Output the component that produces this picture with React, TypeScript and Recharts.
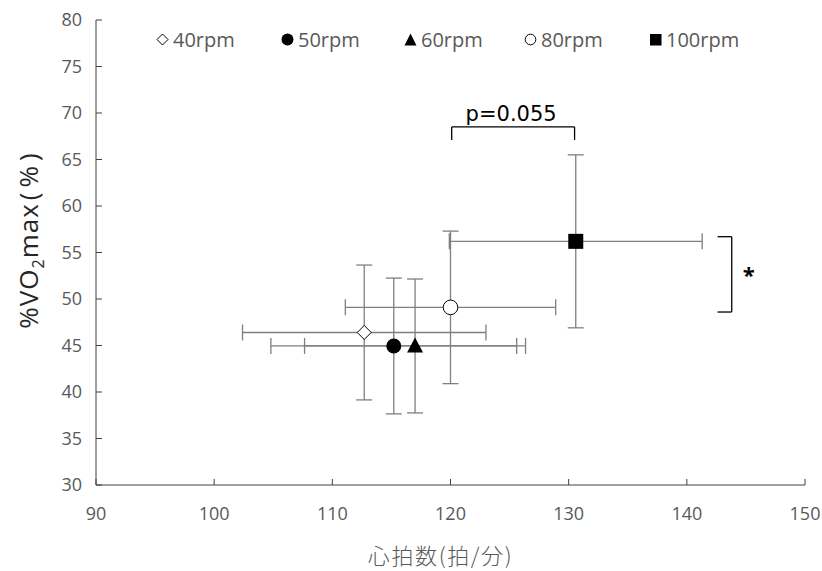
import React from 'react';
import { ScatterChart, Scatter, XAxis, YAxis, ErrorBar, ReferenceLine } from 'recharts';

const seriesNames = ['40rpm', '50rpm', '60rpm', '80rpm', '100rpm'];
const heartRate = [112.7, 115.2, 117.0, 120.0, 130.6];
const heartRateSD = [10.3, 10.4, 9.35, 8.9, 10.7];
const vo2max = [46.4, 44.95, 44.95, 49.1, 56.2];
const vo2maxSD = [7.25, 7.3, 7.2, 8.2, 9.3];
const xTicks = [90, 100, 110, 120, 130, 140, 150];
const yTicks = [30, 35, 40, 45, 50, 55, 60, 65, 70, 75, 80];

const bracketTop = { x1: 120.1, x2: 130.5, y: 68.5, yLeg: 67.1, label: 'p=0.055' };
const bracketRight = { x: 143.8, xStub: 142.6, y1: 56.7, y2: 48.6, label: '*' };

const seriesData = seriesNames.map((name, i) => [
  { x: heartRate[i], y: vo2max[i], xErr: heartRateSD[i], yErr: vo2maxSD[i], name },
]);

const GRAY = '#595959';
const ERR = '#7f7f7f';
const FONT = '"Open Sans", "Noto Sans", sans-serif';

const markerKinds = ['diamond', 'dot', 'triangle', 'circle', 'square'];
const legendLeft = [156, 281, 404, 524, 649];

function Marker({ kind, cx, cy }: { kind: string; cx: number; cy: number }) {
  switch (kind) {
    case 'diamond':
      return <path d={`M${cx},${cy - 7}L${cx + 7},${cy}L${cx},${cy + 7}L${cx - 7},${cy}Z`} fill="#fff" stroke="#000" strokeWidth={1} />;
    case 'dot':
      return <circle cx={cx} cy={cy} r={7.5} fill="#000" />;
    case 'triangle':
      return <path d={`M${cx},${cy - 8.5}L${cx + 8},${cy + 6.5}L${cx - 8},${cy + 6.5}Z`} fill="#000" />;
    case 'circle':
      return <circle cx={cx} cy={cy} r={7.3} fill="#fff" stroke="#000" strokeWidth={1} />;
    case 'square':
    default:
      return <rect x={cx - 7.5} y={cy - 7.5} width={15} height={15} fill="#000" />;
  }
}

const legendIcon = (kind: string) => {
  switch (kind) {
    case 'diamond':
      return <path d="M6.5,1L12,6.5L6.5,12L1,6.5Z" fill="#fff" stroke="#000" strokeWidth={1} />;
    case 'dot':
      return <circle cx={6.5} cy={6.5} r={6} fill="#000" />;
    case 'triangle':
      return <path d="M6.5,0.5L12.5,12.5L0.5,12.5Z" fill="#000" />;
    case 'circle':
      return <circle cx={6.5} cy={6.5} r={5.3} fill="#fff" stroke="#000" strokeWidth={1} />;
    default:
      return <rect x={1} y={1} width={11.5} height={11.5} fill="#000" />;
  }
};

function YLabel(props: any) {
  const vb = props.viewBox || { x: 0, y: 20, width: 96, height: 465 };
  const cx = 38;
  const cy = vb.y + vb.height / 2 - 12;
  return (
    <text
      x={cx}
      y={cy}
      transform={`rotate(-90, ${cx}, ${cy})`}
      textAnchor="middle"
      fill="#262626"
      fontSize={26}
      letterSpacing={1}
      fontFamily={FONT}
    >
      %VO<tspan fontSize={16} dy={6}>2</tspan>
      <tspan dy={-6}>max</tspan>
      <tspan dx={3}>(</tspan>
      <tspan dx={4}>%</tspan>
      <tspan dx={4}>)</tspan>
    </text>
  );
}

function XLabel(props: any) {
  const vb = props.viewBox || { x: 96, y: 485, width: 709, height: 86 };
  return (
    <text
      x={vb.x + vb.width / 2 - 10}
      y={564}
      textAnchor="middle"
      fill={GRAY}
      fontSize={22}
      letterSpacing={1.6}
      fontFamily='"Noto Sans CJK JP", sans-serif'
      fontWeight={300}
    >
      心拍数(拍/分)
    </text>
  );
}

function Legend() {
  return (
    <div style={{ position: 'absolute', left: 0, top: 0, fontFamily: FONT, fontSize: 20, color: GRAY, whiteSpace: 'nowrap' }}>
      {seriesNames.map((n, i) => (
        <div
          key={n}
          style={{ position: 'absolute', left: legendLeft[i], top: 26, display: 'flex', alignItems: 'center', height: 26 }}
        >
          <svg width={13} height={13} style={{ marginRight: 4 }}>
            {legendIcon(markerKinds[i])}
          </svg>
          <span>{n}</span>
        </div>
      ))}
    </div>
  );
}

export default function App() {
  return (
    <div style={{ position: 'absolute', left: 0, top: 0, width: 822, height: 571, background: '#fff' }}>
      <ScatterChart width={822} height={571} margin={{ top: 20, right: 17, left: 0, bottom: 0 }}>
        <XAxis
          type="number"
          dataKey="x"
          domain={[90, 150]}
          ticks={xTicks}
          allowDataOverflow
          height={86}
          axisLine={{ stroke: '#404040', strokeWidth: 1 }}
          tickLine={{ stroke: '#404040' }}
          tickSize={-6}
          tickMargin={28}
          tick={{ fill: GRAY, fontSize: 18, fontFamily: FONT }}
          label={<XLabel />}
        />
        <YAxis
          type="number"
          dataKey="y"
          domain={[30, 80]}
          ticks={yTicks}
          allowDataOverflow
          width={96}
          axisLine={{ stroke: '#404040', strokeWidth: 1 }}
          tickLine={{ stroke: '#404040' }}
          tickSize={-6}
          tickMargin={20}
          tick={{ fill: GRAY, fontSize: 18, fontFamily: FONT }}
          label={<YLabel />}
        />
        {seriesData.map((d, i) => (
          <Scatter key={'err' + i} data={d} isAnimationActive={false} shape={() => <g />}>
            <ErrorBar dataKey="xErr" direction="x" width={8} stroke={ERR} strokeWidth={1.3} />
            <ErrorBar dataKey="yErr" direction="y" width={8} stroke={ERR} strokeWidth={1.3} />
          </Scatter>
        ))}
        {seriesData.map((d, i) => (
          <Scatter
            key={'pt' + i}
            name={seriesNames[i]}
            data={d}
            isAnimationActive={false}
            shape={(p: any) => <Marker kind={markerKinds[i]} cx={p.cx} cy={p.cy} />}
          />
        ))}
        <ReferenceLine
          segment={[{ x: bracketTop.x1, y: bracketTop.y }, { x: bracketTop.x2, y: bracketTop.y }]}
          stroke="#000"
          strokeWidth={1.3}
          label={(p: any) => (
            <text
              x={p.viewBox.x + p.viewBox.width / 2 - 2}
              y={p.viewBox.y - 6}
              textAnchor="middle"
              fill="#000"
              fontSize={21}
              fontFamily='"DejaVu Sans", sans-serif'
            >
              {bracketTop.label}
            </text>
          )}
        />
        <ReferenceLine
          segment={[{ x: bracketTop.x1, y: bracketTop.y }, { x: bracketTop.x1, y: bracketTop.yLeg }]}
          stroke="#000"
          strokeWidth={1.3}
        />
        <ReferenceLine
          segment={[{ x: bracketTop.x2, y: bracketTop.y }, { x: bracketTop.x2, y: bracketTop.yLeg }]}
          stroke="#000"
          strokeWidth={1.3}
        />
        <ReferenceLine
          segment={[{ x: bracketRight.x, y: bracketRight.y1 }, { x: bracketRight.x, y: bracketRight.y2 }]}
          stroke="#000"
          strokeWidth={1.3}
          label={(p: any) => (
            <text
              x={p.viewBox.x + 17}
              y={p.viewBox.y + p.viewBox.height / 2 + 9}
              textAnchor="middle"
              fill="#000"
              fontSize={22}
              fontWeight={700}
              fontFamily={FONT}
            >
              {bracketRight.label}
            </text>
          )}
        />
        <ReferenceLine
          segment={[{ x: bracketRight.xStub, y: bracketRight.y1 }, { x: bracketRight.x, y: bracketRight.y1 }]}
          stroke="#000"
          strokeWidth={1.3}
        />
        <ReferenceLine
          segment={[{ x: bracketRight.xStub, y: bracketRight.y2 }, { x: bracketRight.x, y: bracketRight.y2 }]}
          stroke="#000"
          strokeWidth={1.3}
        />
      </ScatterChart>
      <Legend />
    </div>
  );
}
